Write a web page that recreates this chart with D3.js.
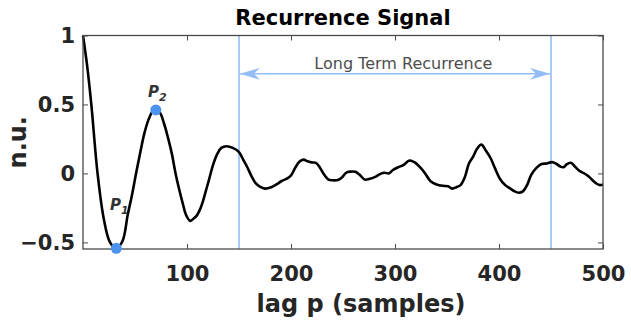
<!DOCTYPE html>
<html>
<head>
<meta charset="utf-8">
<script src="https://cdn.jsdelivr.net/npm/d3@7"></script>
<style>
  html, body { margin: 0; padding: 0; background: #fff; }
  svg { display: block; }
</style>
</head>
<body>
<svg id="chart" width="631" height="324"></svg>
<script>
// ---- data ----
const lags = [0,4,8,14,20,26,32,38,43,47,51,55,59,63,67,70,74,78,82,85.5,89,92,96,99,103,106,109,112,115,118,121,125,129,133,138,144,150,154,158,162,166,170,175,181,186,191,196,200,204,208,212,216,220,224,228,232,236,240,245,249,253,257,262,266,271,276,281,286,290,294,298,303,308,314,319,324,329,334,340,346,351,355,359,363,367,371,375,379,383,387,392,396,401,406,411,415,419,423,427,431,436,441,446,451,455,459,462,465,469,473,477,482,486,490,494,497,500];
const values = [1.0,0.78,0.50,0.0,-0.33,-0.50,-0.543,-0.49,-0.30,-0.16,0.0,0.15,0.29,0.39,0.45,0.46,0.44,0.36,0.25,0.14,0.0,-0.10,-0.22,-0.30,-0.344,-0.33,-0.31,-0.27,-0.21,-0.13,-0.05,0.06,0.14,0.185,0.197,0.185,0.155,0.10,0.045,-0.02,-0.07,-0.095,-0.11,-0.10,-0.08,-0.055,-0.038,-0.015,0.04,0.085,0.10,0.088,0.08,0.077,0.04,-0.01,-0.045,-0.05,-0.048,-0.03,0.005,0.013,0.012,-0.01,-0.045,-0.038,-0.025,-0.003,0.005,0.0,0.025,0.045,0.06,0.094,0.08,0.045,0.0,-0.055,-0.08,-0.09,-0.093,-0.11,-0.10,-0.085,-0.03,0.07,0.12,0.18,0.21,0.17,0.11,0.04,-0.04,-0.085,-0.11,-0.13,-0.14,-0.13,-0.085,-0.01,0.04,0.068,0.072,0.082,0.07,0.05,0.045,0.065,0.077,0.05,0.02,0.0,-0.02,-0.05,-0.075,-0.085,-0.08];
const xTicks = [100, 200, 300, 400, 500];
const yTicks = [-0.5, 0, 0.5, 1];
const peakNames = ["P", "P"];
const peakSubs = ["1", "2"];
const peakLags = [32, 70];
const peakValues = [-0.543, 0.46];
const regionBounds = [150, 450];
const regionLabel = "Long Term Recurrence";
const titleText = "Recurrence Signal";
const xLabel = "lag p (samples)";
const yLabel = "n.u.";

// ---- layout ----
const margin = { left: 83, right: 28, top: 35.5, bottom: 75 };
const W = 631, H = 324;
const iw = W - margin.left - margin.right;
const ih = H - margin.top - margin.bottom;

const svg = d3.select("#chart");
const g = svg.append("g").attr("transform", `translate(${margin.left},${margin.top})`);

const x = d3.scaleLinear().domain([0, 500]).range([0, iw]);
const y = d3.scaleLinear().domain([-0.548, 1]).range([ih, 0]);

const axisColor = "#4a4a4a";
const textColor = "#262626";
const font = "'DejaVu Sans', Verdana, sans-serif";

// region lines
const blueLine = "#94bdf6";
g.selectAll("line.region").data(regionBounds).enter().append("line")
  .attr("x1", d => x(d)).attr("x2", d => x(d))
  .attr("y1", 0).attr("y2", ih)
  .attr("stroke", blueLine).attr("stroke-width", 1.6);

// arrow marker
const defs = svg.append("defs");
["start", "end"].forEach(k => {
  defs.append("marker").attr("id", "arr-" + k)
    .attr("viewBox", "0 0 20 12").attr("refX", k === "end" ? 20 : 0).attr("refY", 6)
    .attr("markerWidth", 20).attr("markerHeight", 12).attr("markerUnits", "userSpaceOnUse")
    .attr("orient", "auto")
    .append("path")
    .attr("d", k === "end" ? "M0,0 L20,6 L0,12 L6,6 Z" : "M20,0 L0,6 L20,12 L14,6 Z")
    .attr("fill", blueLine);
});
const arrowY = y(0.722);
g.append("line")
  .attr("x1", x(regionBounds[0]) + 1).attr("x2", x(regionBounds[1]) - 1)
  .attr("y1", arrowY).attr("y2", arrowY)
  .attr("stroke", blueLine).attr("stroke-width", 1.5)
  .attr("marker-start", "url(#arr-start)").attr("marker-end", "url(#arr-end)");
g.append("text")
  .attr("x", x(308)).attr("y", arrowY - 5)
  .attr("text-anchor", "middle")
  .attr("font-family", font).attr("font-size", 16)
  .attr("fill", "#4d4d4d")
  .text(regionLabel);

// curve
const pts = lags.map((d, i) => [d, values[i]]);
const line = d3.line().x(d => x(d[0])).y(d => y(d[1])).curve(d3.curveCatmullRom.alpha(0.5));
g.append("path").datum(pts)
  .attr("d", line).attr("fill", "none")
  .attr("stroke", "#000").attr("stroke-width", 2.6)
  .attr("stroke-linejoin", "round");

// axes box with inner ticks
const xAxisB = d3.axisBottom(x).tickValues(xTicks).tickSize(-5).tickPadding(17).tickFormat(d3.format("d"));
const xAxisT = d3.axisTop(x).tickValues(xTicks).tickSize(-5).tickFormat("");
const yAxisL = d3.axisLeft(y).tickValues(yTicks).tickSize(-5).tickPadding(8).tickFormat(d => d3.format("")(d));
const yAxisR = d3.axisRight(y).tickValues(yTicks).tickSize(-5).tickFormat("");

function styleAxis(sel) {
  sel.selectAll("path.domain").attr("stroke", axisColor).attr("stroke-width", 1.3);
  sel.selectAll(".tick line").attr("stroke", axisColor).attr("stroke-width", 1);
  sel.selectAll(".tick text").attr("fill", textColor)
    .attr("font-family", font).attr("font-size", 21).attr("font-weight", "bold");
}
const gxB = g.append("g").attr("transform", `translate(0,${ih})`).call(xAxisB).call(styleAxis);
const gxT = g.append("g").call(xAxisT).call(styleAxis);
const gyL = g.append("g").call(yAxisL).call(styleAxis);
const gyR = g.append("g").attr("transform", `translate(${iw},0)`).call(yAxisR).call(styleAxis);
[gxB, gxT, gyL, gyR].forEach(a => a.selectAll("path.domain").attr("d", null));
g.append("rect").attr("x", 0).attr("y", 0).attr("width", iw).attr("height", ih)
  .attr("fill", "none").attr("stroke", axisColor).attr("stroke-width", 1.3);

// peak markers
g.selectAll("circle.peak").data(peakLags).enter().append("circle")
  .attr("cx", d => x(d)).attr("cy", (d, i) => y(peakValues[i]))
  .attr("r", 5.5).attr("fill", "#4b93ee");

const peakLabelPos = [[110, 210], [148, 96.5]];
peakLabelPos.forEach((p, i) => {
  const t = svg.append("text")
    .attr("x", p[0]).attr("y", p[1])
    .attr("font-family", font).attr("font-size", 15).attr("font-style", "italic").attr("font-weight", "bold")
    .attr("fill", "#333");
  t.append("tspan").text(peakNames[i]);
  t.append("tspan").attr("font-size", 11).attr("dy", 4).text(peakSubs[i]);
});

// title and axis labels
svg.append("text").attr("x", margin.left + iw / 2).attr("y", 25)
  .attr("text-anchor", "middle").attr("font-family", font).attr("font-size", 21)
  .attr("font-weight", "bold").attr("fill", "#000").text(titleText);
svg.append("text").attr("x", 361).attr("y", 311.5)
  .attr("text-anchor", "middle").attr("font-family", font).attr("font-size", 24)
  .attr("font-weight", "bold").attr("fill", textColor).text(xLabel);
svg.append("text").attr("transform", `translate(26,${margin.top + ih / 2}) rotate(-90)`)
  .attr("text-anchor", "middle").attr("font-family", font).attr("font-size", 24)
  .attr("font-weight", "bold").attr("fill", textColor).text(yLabel);
</script>
</body>
</html>
